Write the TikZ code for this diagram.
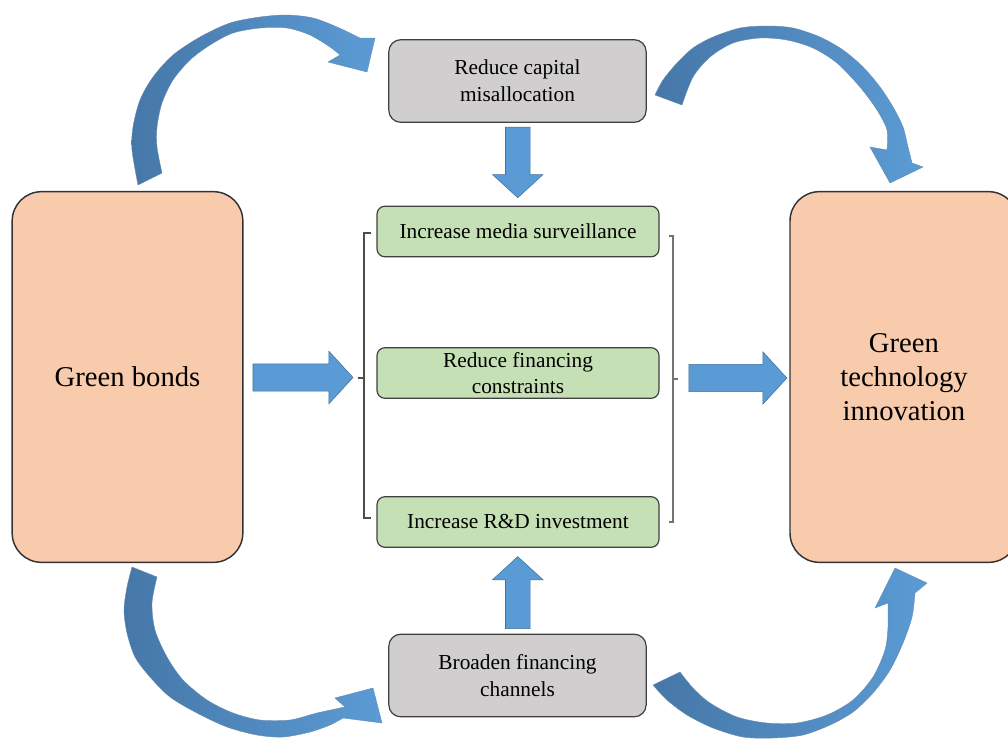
\documentclass[tikz,border=0pt]{standalone}
\usepackage{fontspec}
\setmainfont{Liberation Serif}
\usetikzlibrary{arrows.meta, positioning, calc, shapes.arrows}

\definecolor{peach}{HTML}{F8CBAD}
\definecolor{boxgray}{HTML}{D0CECE}
\definecolor{boxgreen}{HTML}{C5E0B4}
\definecolor{arrowblue}{HTML}{5B9BD5}
\definecolor{arrowdark}{HTML}{41719C}
\definecolor{curvedark}{HTML}{4677A8}

\tikzset{
  bigbox/.style={draw=black!80, line width=1.1pt, fill=peach, rounded corners=22pt,
    minimum width=173pt, minimum height=278pt, align=center,
    font=\fontsize{21.5}{25.5}\selectfont},
  graybox/.style={draw=black!75, line width=0.9pt, fill=boxgray, rounded corners=9pt,
    minimum width=193pt, minimum height=62pt, align=center,
    font=\fontsize{16}{20}\selectfont},
  greenbox/.style={draw=black!75, line width=0.9pt, fill=boxgreen, rounded corners=6pt,
    minimum width=211.5pt, minimum height=38pt, inner sep=1pt, align=center,
    font=\fontsize{16}{20}\selectfont},
  blockarrow/.style={single arrow, draw=arrowdark, line width=0.4pt, fill=arrowblue,
    inner sep=10pt, single arrow head extend=9.5pt, single arrow tip angle=95,
    minimum width=39pt},
  curvedarrow/.style={draw=arrowdark!80, line width=0.3pt,
    left color=curvedark, right color=arrowblue},
  bracket/.style={draw=black!70, line width=0.8pt}
}

\begin{document}
\begin{tikzpicture}[x=0.75pt, y=-0.75pt]
  \useasboundingbox (0,0) rectangle (1008,740);

  % outer boxes
  \node[bigbox] (bonds) at (127.5,377) {Green bonds};
  \node[bigbox, minimum width=171pt] (innov) at (904,377) {Green\\technology\\innovation};

  % channels, top and bottom
  \node[graybox] (capital) at (517.5,81) {Reduce capital\\misallocation};
  \node[graybox] (channels) at (517.5,675.5) {Broaden financing\\channels};

  % mechanisms
  \node[greenbox] (media) at (518,231.5) {Increase media surveillance};
  \node[greenbox] (constr) at (518,373) {Reduce financing\\constraints};
  \node[greenbox] (rnd) at (518,522) {Increase R\&D investment};

  % brackets round the mechanisms
  \coordinate (lbrk) at (364,378);
  \coordinate (rbrk) at (673,379);
  \draw[bracket] ($(lbrk)+(7,-145)$) -- ++(-7,0) -- ++(0,285) -- ++(7,0);
  \draw[bracket] (lbrk) -- ++(-6,0);
  \draw[bracket, draw=black!55] ($(rbrk)+(-4,-143)$) -- ++(4,0) -- ++(0,286) -- ++(-4,0);
  \draw[bracket, draw=black!55] (rbrk) -- ++(5,0);

  % straight block arrows
  \node[blockarrow, minimum height=75pt] (toMid) at ($(bonds.east)!0.5!(lbrk)+(-7,0)$) {};
  \node[blockarrow, minimum height=73.5pt] (toInnov) at ($(rbrk)!0.5!(innov.west)+(0.5,0)$) {};
  \node[blockarrow, shape border rotate=270, inner sep=9pt, minimum height=53pt,
    minimum width=37.5pt, single arrow head extend=9.75pt] (down)
    at ($(capital.south)!0.5!(media.north)+(0,-7.5)$) {};
  \node[blockarrow, shape border rotate=90, inner sep=9pt, minimum height=54pt,
    minimum width=37.5pt, single arrow head extend=9.75pt] (up)
    at ($(rnd.south)!0.5!(channels.north)+(0,7.5)$) {};

  % curved arrows
  % bonds -> capital
  \path[curvedarrow] plot[smooth] coordinates {(138,185) (132,150) (133,127) (140,100)
      (153,77) (173,55) (200,37) (230,23) (260,17) (287,15) (313,18) (337,27) (360,38)}
    -- (375,38) -- (367,72) -- (328,62)
    -- plot[smooth] coordinates {(340,55) (330,47) (310,35) (287,28) (260,28) (233,33)
      (210,45) (190,60) (173,80) (162,103) (157,127) (157,147) (162,173)} -- cycle;
  % capital -> innov
  \path[curvedarrow] plot[smooth] coordinates {(655,95) (663,80) (677,63) (693,48)
      (713,37) (740,28) (767,26) (793,28) (820,37) (843,50) (863,67) (880,87)
      (893,107) (903,127) (908,147) (912,163)}
    -- (923,167) -- (890,183) -- (870,147)
    -- plot[smooth] coordinates {(887,150) (887,130) (877,110) (860,87) (837,63)
      (813,48) (787,40) (760,38) (733,43) (710,57) (693,77) (682,105)} -- cycle;
  % bonds -> channels
  \path[curvedarrow] plot[smooth] coordinates {(132,567) (127,587) (124,610) (127,633)
      (135,657) (150,677) (170,697) (197,713) (227,727) (257,735) (283,737)
      (310,732) (330,725) (343,718)}
    -- (382,723) -- (373,688) -- (335,698)
    -- plot[smooth] coordinates {(345,707) (317,713) (290,720) (260,720) (233,713)
      (207,700) (183,680) (167,657) (155,630) (152,603) (157,577)} -- cycle;
  % channels -> innov
  \path[curvedarrow] plot[smooth] coordinates {(653,685) (667,700) (687,715) (713,728)
      (743,737) (773,738) (803,735) (830,725) (853,712) (873,693) (890,670)
      (903,643) (912,617) (915,593)}
    -- (927,583) -- (895,568) -- (875,608)
    -- plot[smooth] coordinates {(888,603) (888,627) (885,650) (873,677) (853,700)
      (827,715) (797,723) (767,723) (737,717) (710,703) (693,688) (680,672)} -- cycle;
\end{tikzpicture}
\end{document}
